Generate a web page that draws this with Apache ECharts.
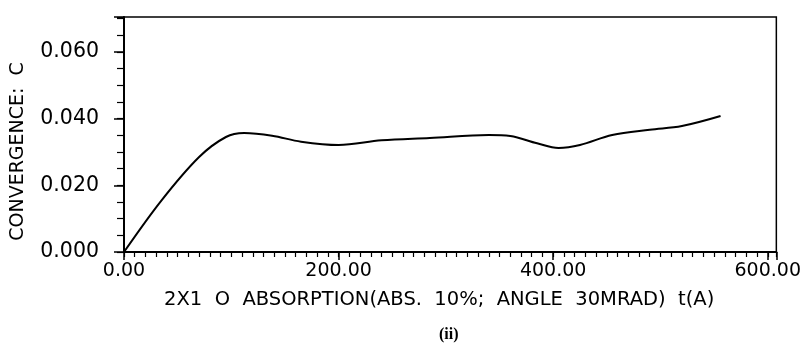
<!DOCTYPE html>
<html>
<head>
<meta charset="utf-8">
<script src="https://cdn.jsdelivr.net/npm/echarts@6/dist/echarts.min.js"></script>
<style>
  html, body { margin: 0; padding: 0; background: #fff; }
  #main { width: 804px; height: 352px; }
</style>
</head>
<body>
<div id="main"></div>
<script>
// curve: thickness t(A) vs convergence C
var t_data = [0, 35, 70, 95, 112, 138, 165, 200, 240, 285, 340, 360, 385, 405, 425, 455, 490, 520, 556];
var c_data = [0, 0.0155, 0.0285, 0.0345, 0.0357, 0.0349, 0.0331, 0.0321, 0.0335, 0.0342, 0.0351, 0.0348, 0.0326, 0.0312, 0.0321, 0.0351, 0.0367, 0.0378, 0.0408];

var xTitle = "2X1  O  ABSORPTION(ABS.  10%;  ANGLE  30MRAD)  t(A)";
var yTitle = "CONVERGENCE:  C";
var caption = "(ii)";

var pts = [];
for (var i = 0; i < t_data.length; i++) {
  pts.push([t_data[i], c_data[i]]);
}

var myChart = echarts.init(document.getElementById("main"));

var font = "DejaVu Sans";
var xMax = 608;
var yMax = 0.0705;

var option = {
  animation: false,
  title: {
    text: caption,
    left: 434,
    top: 322,
    textStyle: { fontFamily: "Liberation Serif", fontSize: 16, fontWeight: "bold", color: "#000" },
  },
  grid: {
    left: 124,
    right: 23,
    top: 17,
    bottom: 100,
    show: true,
    borderColor: "#000",
    borderWidth: 1.5,
  },
  xAxis: [
    {
      // major ticks + labels
      type: "value",
      min: 0,
      max: xMax,
      interval: 200,
      axisLine: { lineStyle: { color: "#000", width: 2 } },
      axisTick: { length: 8, lineStyle: { color: "#000", width: 1.5 } },
      splitLine: { show: false },
      axisLabel: {
        color: "#000",
        fontFamily: font,
        fontSize: 19,
        margin: 10,
        formatter: function (v) {
          return v % 200 === 0 ? v.toFixed(2) : "";
        },
      },
      name: xTitle,
      nameLocation: "middle",
      nameGap: 38,
      nameTextStyle: { color: "#000", fontFamily: font, fontSize: 19.5, padding: [0, 22, 0, 0] },
    },
    {
      // minor ticks every 10
      type: "value",
      position: "bottom",
      min: 0,
      max: xMax,
      interval: 10,
      axisLine: { show: false },
      axisTick: { length: 5, lineStyle: { color: "#000", width: 1.2 } },
      axisLabel: { show: false },
      splitLine: { show: false },
    },
  ],
  yAxis: [
    {
      type: "value",
      min: 0,
      max: yMax,
      interval: 0.02,
      axisLine: { show: true, lineStyle: { color: "#000", width: 2 } },
      axisTick: { show: true, length: 10, lineStyle: { color: "#000", width: 1.5 } },
      splitLine: { show: false },
      axisLabel: {
        color: "#000",
        fontFamily: font,
        fontSize: 20.5,
        margin: 25,
        formatter: function (v) {
          return Math.abs(v / 0.02 - Math.round(v / 0.02)) < 1e-6 ? v.toFixed(3) : "";
        },
      },
      name: yTitle,
      nameLocation: "middle",
      nameGap: 96,
      nameRotate: 90,
      nameTextStyle: { color: "#000", fontFamily: font, fontSize: 19, padding: [0, 34, 0, 0] },
    },
    {
      // minor ticks every 0.005
      type: "value",
      position: "left",
      min: 0,
      max: yMax,
      interval: 0.005,
      axisLine: { show: false },
      axisTick: { show: true, length: 7, lineStyle: { color: "#000", width: 1.2 } },
      axisLabel: { show: false },
      splitLine: { show: false },
    },
  ],
  series: [
    {
      type: "line",
      data: pts,
      smooth: 0.35,
      symbol: "none",
      lineStyle: { color: "#000", width: 2 },
    },
  ],
};

myChart.setOption(option);
window.addEventListener("resize", myChart.resize);
</script>
</body>
</html>
